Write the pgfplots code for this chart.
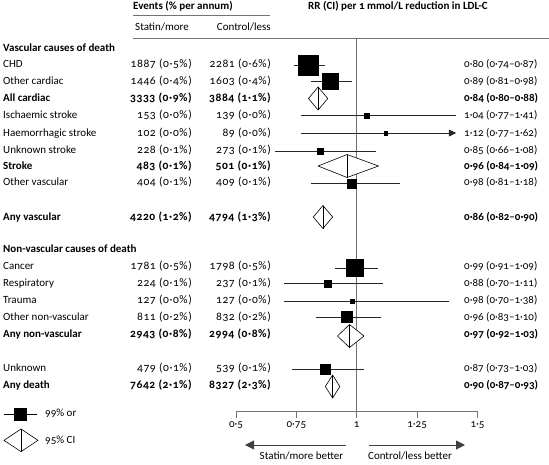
\documentclass[border=0pt]{standalone}
\usepackage{pgfplots}
\pgfplotsset{compat=1.18}
\usepackage{fontspec}
\setmainfont{Carlito}[Numbers={OldStyle,Monospaced}]
\newfontfamily\nf{Carlito}[Numbers={OldStyle,Monospaced}, LetterSpace=5, Scale=1.05]
\usetikzlibrary{arrows.meta}

\newcommand\fs{\fontsize{11}{13}\selectfont}
\tikzset{txt/.style={inner sep=0pt, font=\fs}}
\newcommand\row[6]{%
 \node[txt,anchor=mid west] at (3pt,-#1pt) {#6#2};
 \node[txt,anchor=mid east] at (192pt,-#1pt) {\nf#6#3};
 \node[txt,anchor=mid east] at (271pt,-#1pt) {\nf#6#4};
 \node[txt,anchor=mid west] at (464pt,-#1pt) {#6#5};
}

\begin{document}
\begin{tikzpicture}
\useasboundingbox (0pt,0pt) rectangle (549pt,-464pt);
\begin{axis}[
 at={(236pt,-411.7pt)}, anchor=south west,
 scale only axis, width=241.5pt, height=373.7pt,
 xmin=0.5, xmax=1.5, ymin=-411.7, ymax=-38,
 axis x line*=bottom, axis y line=none,
 x axis line style={black!55, line width=0.9pt, -},
 xtick={0.5,0.75,1,1.25,1.5},
 xticklabels={0·5,0·75,1,1·25,1·5},
 tick align=outside, major tick length=6pt,
 tick style={black!55, line width=0.9pt},
 xticklabel style={font=\fs, inner sep=0pt, yshift=-4pt},
 clip=false,
 ci/.style={black!85, line width=0.7pt, mark=none},
 sq/.style={black, only marks, mark=square*, mark options={fill=black, draw=black, line width=0.3pt}},
 dia/.style={black, line width=0.6pt, fill=white, mark=none},
 dl/.style={black, line width=0.6pt, mark=none},
]
% reference line
\addplot[black!55, line width=1pt, mark=none] coordinates {(1,-411.7) (1,-38)};
% CHD
\addplot[ci] coordinates {(0.74,-65.5) (0.87,-65.5)};
\addplot[sq, mark size=10pt] coordinates {(0.80,-65.5)};
% Other cardiac
\addplot[ci] coordinates {(0.81,-81.5) (0.98,-81.5)};
\addplot[sq, mark size=8pt] coordinates {(0.89,-81.5)};
% All cardiac
\addplot[dia] coordinates {(0.80,-98.5) (0.84,-87) (0.88,-98.5) (0.84,-110)} -- cycle;
\addplot[dl] coordinates {(0.84,-87) (0.84,-110)};
% Ischaemic stroke
\addplot[ci] coordinates {(0.77,-115.5) (1.41,-115.5)};
\addplot[sq, mark size=2.5pt] coordinates {(1.04,-115.5)};
% Haemorrhagic stroke
\addplot[ci, -{Triangle[length=7.5pt,width=7pt]}] coordinates {(0.77,-133) (1.412,-133)};
\addplot[sq, mark size=1.9pt] coordinates {(1.12,-133)};
% Unknown stroke
\addplot[ci] coordinates {(0.66,-151) (1.08,-151)};
\addplot[sq, mark size=3pt] coordinates {(0.85,-151)};
% Stroke
\addplot[dia] coordinates {(0.84,-166) (0.96,-154.5) (1.09,-166) (0.96,-177.5)} -- cycle;
\addplot[dl] coordinates {(0.96,-154.5) (0.96,-177.5)};
% Other vascular
\addplot[ci] coordinates {(0.81,-183.5) (1.18,-183.5)};
\addplot[sq, mark size=4.5pt] coordinates {(0.98,-183.5)};
% Any vascular
\addplot[dia] coordinates {(0.82,-217) (0.86,-205.5) (0.90,-217) (0.86,-228.5)} -- cycle;
\addplot[dl] coordinates {(0.86,-205.5) (0.86,-228.5)};
% Cancer
\addplot[ci] coordinates {(0.91,-268) (1.09,-268)};
\addplot[sq, mark size=8.5pt] coordinates {(0.99,-268)};
% Respiratory
\addplot[ci] coordinates {(0.70,-283.5) (1.11,-283.5)};
\addplot[sq, mark size=3.5pt] coordinates {(0.88,-283.5)};
% Trauma
\addplot[ci] coordinates {(0.70,-301) (1.38,-301)};
\addplot[sq, mark size=2.2pt] coordinates {(0.98,-301)};
% Other non-vascular
\addplot[ci] coordinates {(0.83,-317) (1.10,-317)};
\addplot[sq, mark size=5.5pt] coordinates {(0.96,-317)};
% Any non-vascular
\addplot[dia] coordinates {(0.92,-336) (0.97,-324.5) (1.03,-336) (0.97,-347.5)} -- cycle;
\addplot[dl] coordinates {(0.97,-324.5) (0.97,-347.5)};
% Unknown
\addplot[ci] coordinates {(0.73,-369) (1.03,-369)};
\addplot[sq, mark size=5.2pt] coordinates {(0.87,-369)};
% Any death
\addplot[dia] coordinates {(0.87,-386.5) (0.90,-375) (0.93,-386.5) (0.90,-398)} -- cycle;
\addplot[dl] coordinates {(0.90,-375) (0.90,-398)};
% legend glyphs
\addplot[ci, black] coordinates {(-0.4607,-414) (-0.3240,-414)};
\addplot[sq, mark size=6.2pt] coordinates {(-0.3932,-414)};
\addplot[dia] coordinates {(-0.4607,-440.3) (-0.3903,-429) (-0.3199,-440.3) (-0.3903,-451.6)} -- cycle;
\addplot[dl] coordinates {(-0.3903,-429) (-0.3903,-451.6)};
\end{axis}

% header
\node[txt,anchor=mid west,font=\fs\bfseries] at (133pt,-7pt) {Events (\% per annum)};
\draw[black!55, line width=0.9pt] (133pt,-15pt) -- (270pt,-15pt);
\node[txt,anchor=mid west] at (135pt,-28pt) {Statin/more};
\node[txt,anchor=mid east] at (271pt,-28pt) {Control/less};
\node[txt,anchor=mid,font=\fs\bfseries] at (398pt,-7.5pt) {RR (CI) per 1 mmol/L reduction in LDL-C};
\draw[black!55, line width=0.9pt] (133pt,-38pt) -- (549pt,-38pt);

\node[txt,anchor=mid west,font=\fs\bfseries] at (3pt,-49.3pt) {Vascular causes of death};
\row{65.5}{CHD}{1887 (0·5\%)}{2281 (0·6\%)}{0·80 (0·74–0·87)}{}
\row{82}{Other cardiac}{1446 (0·4\%)}{1603 (0·4\%)}{0·89 (0·81–0·98)}{}
\row{99}{All cardiac}{3333 (0·9\%)}{3884 (1·1\%)}{0·84 (0·80–0·88)}{\bfseries}
\row{116.5}{Ischaemic stroke}{153 (0·0\%)}{139 (0·0\%)}{1·04 (0·77–1·41)}{}
\row{134}{Haemorrhagic stroke}{102 (0·0\%)}{89 (0·0\%)}{1·12 (0·77–1·62)}{}
\row{151.5}{Unknown stroke}{228 (0·1\%)}{273 (0·1\%)}{0·85 (0·66–1·08)}{}
\row{167}{Stroke}{483 (0·1\%)}{501 (0·1\%)}{0·96 (0·84–1·09)}{\bfseries}
\row{183.5}{Other vascular}{404 (0·1\%)}{409 (0·1\%)}{0·98 (0·81–1·18)}{}
\row{218}{Any vascular}{4220 (1·2\%)}{4794 (1·3\%)}{0·86 (0·82–0·90)}{\bfseries}
\node[txt,anchor=mid west,font=\fs\bfseries] at (3pt,-250pt) {Non-vascular causes of death};
\row{267.5}{Cancer}{1781 (0·5\%)}{1798 (0·5\%)}{0·99 (0·91–1·09)}{}
\row{284.5}{Respiratory}{224 (0·1\%)}{237 (0·1\%)}{0·88 (0·70–1·11)}{}
\row{301.5}{Trauma}{127 (0·0\%)}{127 (0·0\%)}{0·98 (0·70–1·38)}{}
\row{318}{Other non-vascular}{811 (0·2\%)}{832 (0·2\%)}{0·96 (0·83–1·10)}{}
\row{335}{Any non-vascular}{2943 (0·8\%)}{2994 (0·8\%)}{0·97 (0·92–1·03)}{\bfseries}
\row{369.5}{Unknown}{479 (0·1\%)}{539 (0·1\%)}{0·87 (0·73–1·03)}{}
\row{386}{Any death}{7642 (2·1\%)}{8327 (2·3\%)}{0·90 (0·87–0·93)}{\bfseries}

% legend text
\node[txt,anchor=mid west] at (45pt,-414pt) {99\% or};
\node[txt,anchor=mid west] at (45pt,-441pt) {95\% CI};

% direction arrows
\draw[black!75, line width=0.9pt, -{Triangle[length=9pt,width=9pt]}] (346pt,-445pt) -- (245pt,-445pt);
\draw[black!75, line width=0.9pt, -{Triangle[length=9pt,width=9pt]}] (369pt,-445pt) -- (465pt,-445pt);
\node[txt,anchor=mid] at (301.5pt,-457.3pt) {Statin/more better};
\node[txt,anchor=mid] at (410pt,-457.3pt) {Control/less better};
\end{tikzpicture}
\end{document}
